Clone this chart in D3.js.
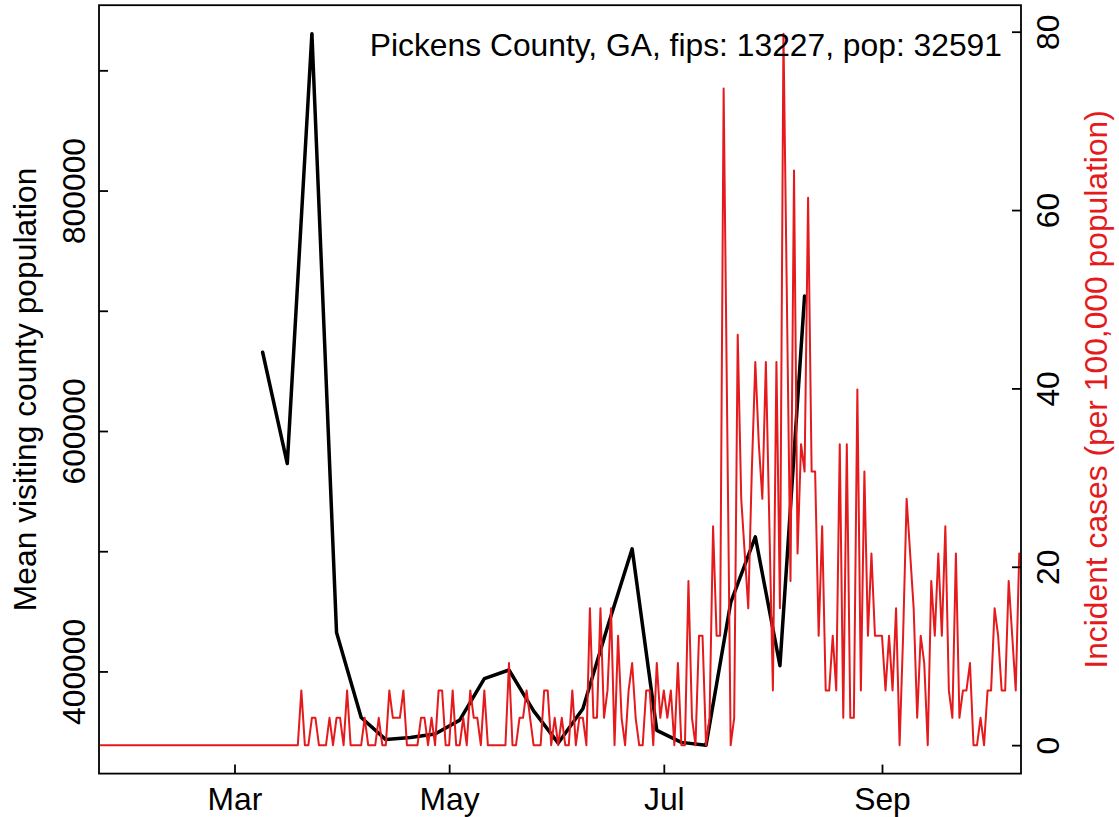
<!DOCTYPE html>
<html><head><meta charset="utf-8">
<script src="https://cdn.jsdelivr.net/npm/d3@7"></script>
<style>
html,body{margin:0;padding:0;background:#fff;}
svg{display:block;font-family:"Liberation Sans", Arial, Helvetica, sans-serif;}
</style></head><body>
<svg id="chart" width="1119" height="817"></svg>
<script>
const titleText = "Pickens County, GA, fips: 13227, pop: 32591";
const leftLabel = "Mean visiting county population";
const rightLabel = "Incident cases (per 100,000 population)";

// black series: weekly mean visiting county population
const visitDates = ["2020-03-09","2020-03-16","2020-03-23","2020-03-30","2020-04-06","2020-04-13",
  "2020-04-20","2020-04-27","2020-05-04","2020-05-11","2020-05-18","2020-05-25","2020-06-01",
  "2020-06-08","2020-06-15","2020-06-22","2020-06-29","2020-07-06","2020-07-13","2020-07-20",
  "2020-07-27","2020-08-03","2020-08-10"];
const visitValues = [665500,572900,930500,432300,361700,343300,345100,347900,359500,394100,
  401200,367200,340400,369000,437000,502000,351000,341000,338700,457200,512000,404800,712300];

// red series: daily incident cases per 100,000, starting 2020-01-23
const caseStart = "2020-01-23";
const caseValues = [
  0,0,0,0,0,0,0,0,0,0, 0,0,0,0,0,0,0,0,0,0, 0,0,0,0,0,0,0,0,0,0,
  0,0,0,0,0,0,0,0,0,0, 0,0,0,0,0,0,0,0,0,0, 0,0,0,0,0,0,0,
  6.14,0,0,3.07,3.07,0,0,0,3.07,0,
  3.07,3.07,0,6.14,0,0,0,0,3.07,0,
  0,0,3.07,0,0,6.14,3.07,3.07,3.07,6.14,
  0,0,0,0,3.07,3.07,0,3.07,0,6.14,
  6.14,0,0,6.14,0,0,3.07,0,6.14,3.07,
  3.07,0,6.14,0,0,0,0,0,0,9.21,
  0,0,3.07,3.07,6.14,3.07,0,0,0,6.14,
  6.14,0,3.07,0,3.07,0,0,6.14,0,3.07,
  3.07,0,15.34,3.07,3.07,15.34,3.07,6.14,15.34,0,
  12.27,3.07,0,6.14,9.21,3.07,0,0,6.14,6.14,
  0,9.21,3.07,6.14,3.07,6.14,0,9.21,0,0,
  18.41,3.07,0,12.27,12.27,0,3.07,24.55,12.27,12.27,
  73.64,36.82,0,3.07,46.03,27.62,21.48,15.34,30.68,42.96,
  33.75,27.62,42.96,24.55,6.14,42.96,15.34,79.78,49.09,18.41,
  64.44,21.48,33.75,30.68,61.37,30.68,30.68,12.27,24.55,6.14,
  6.14,12.27,6.14,33.75,3.07,33.75,3.07,3.07,39.89,6.14,
  30.68,12.27,21.48,12.27,12.27,12.27,6.14,12.27,6.14,15.34,
  0,12.27,27.62,21.48,15.34,3.07,12.27,9.21,0,18.41,
  12.27,21.48,12.27,24.55,6.14,3.07,21.48,3.07,6.14,6.14,
  9.21,0,0,3.07,0,6.14,6.14,15.34,12.27,6.14,
  6.14,18.41,12.27,6.14,21.48
];

const xRange = ["2020-01-22T12:00:00Z","2020-10-10T12:00:00Z"];
const monthTicks = ["2020-03-01","2020-05-01","2020-07-01","2020-09-01"];
const monthLabels = ["Mar","May","Jul","Sep"];
const leftTicks = [400000,500000,600000,700000,800000,900000];
const leftLabeled = [400000,600000,800000];
const rightTicks = [0,20,40,60,80];

// ---- layout ----
const L = 99, R = 1021, T = 5.2, B = 773.6;
const FS = 31.8;
const RED = "#E41A1C";

const svg = d3.select("#chart");
svg.append("rect").attr("width",1119).attr("height",817).attr("fill","#fff");

const parse = s => new Date(s.length === 10 ? s + "T00:00:00Z" : s);
const x = d3.scaleUtc().domain(xRange.map(parse)).range([L, R]);

function padded(vals){
  const [a,b] = d3.extent(vals); const p = (b-a)*0.04; return [a-p, b+p];
}
const yL = d3.scaleLinear().domain(padded(visitValues)).range([B, T]);
const yR = d3.scaleLinear().domain(padded(caseValues)).range([B, T]);

const visits = visitDates.map((d,i)=>({date:parse(d), v:visitValues[i]}));
const start = parse(caseStart);
const cases = caseValues.map((v,i)=>({date:d3.utcDay.offset(start,i), v}));

svg.append("clipPath").attr("id","clip")
  .append("rect").attr("x",L).attr("y",T).attr("width",R-L).attr("height",B-T);

const g = svg.append("g").attr("clip-path","url(#clip)");
g.append("path").datum(visits)
  .attr("d", d3.line().x(d=>x(d.date)).y(d=>yL(d.v)))
  .attr("fill","none").attr("stroke","#000").attr("stroke-width",3.5)
  .attr("stroke-linejoin","round").attr("stroke-linecap","round");
g.append("path").datum(cases)
  .attr("d", d3.line().x(d=>x(d.date)).y(d=>yR(d.v)))
  .attr("fill","none").attr("stroke",RED).attr("stroke-width",2)
  .attr("stroke-linejoin","round").attr("stroke-linecap","round");

// ---- axes ----
const axB = svg.append("g").attr("transform",`translate(0,${B})`)
  .call(d3.axisTop(x).tickValues(monthTicks.map(parse)).tickSize(9)
    .tickFormat((d,i)=>monthLabels[i]));
axB.selectAll("text").attr("y",36).attr("dy",null).style("text-anchor","middle")
  .attr("font-size",FS).attr("fill","#000");

const axLft = svg.append("g").attr("transform",`translate(${L},0)`)
  .call(d3.axisRight(yL).tickValues(leftTicks).tickSize(9)
    .tickFormat(d=> leftLabeled.includes(d) ? String(d) : ""));
axLft.selectAll("text").attr("x",0).attr("y",-14).attr("dy",null)
  .attr("transform","rotate(-90)").style("text-anchor","middle")
  .attr("font-size",FS).attr("fill","#000");

const axRgt = svg.append("g").attr("transform",`translate(${R},0)`)
  .call(d3.axisLeft(yR).tickValues(rightTicks).tickSize(9).tickFormat(d=>String(d)));
axRgt.selectAll("text").attr("x",0).attr("y",38).attr("dy",null)
  .attr("transform","rotate(-90)").style("text-anchor","middle")
  .attr("font-size",FS).attr("fill","#000");

svg.selectAll(".domain").remove();
svg.selectAll(".tick line").attr("stroke","#000").attr("stroke-width",1.8);

svg.append("rect").attr("x",L).attr("y",T).attr("width",R-L).attr("height",B-T)
  .attr("fill","none").attr("stroke","#000").attr("stroke-width",1.8);

// ---- labels ----
svg.append("text").attr("transform",`translate(36,${(T+B)/2}) rotate(-90)`)
  .attr("text-anchor","middle").attr("font-size",FS).attr("fill","#000").text(leftLabel);
svg.append("text").attr("transform",`translate(1107,${(T+B)/2}) rotate(-90)`)
  .attr("text-anchor","middle").attr("font-size",FS).attr("fill",RED).text(rightLabel);
svg.append("text").attr("x",1002).attr("y",56).attr("text-anchor","end")
  .attr("font-size",FS).attr("fill","#000").text(titleText);
</script>
</body></html>
